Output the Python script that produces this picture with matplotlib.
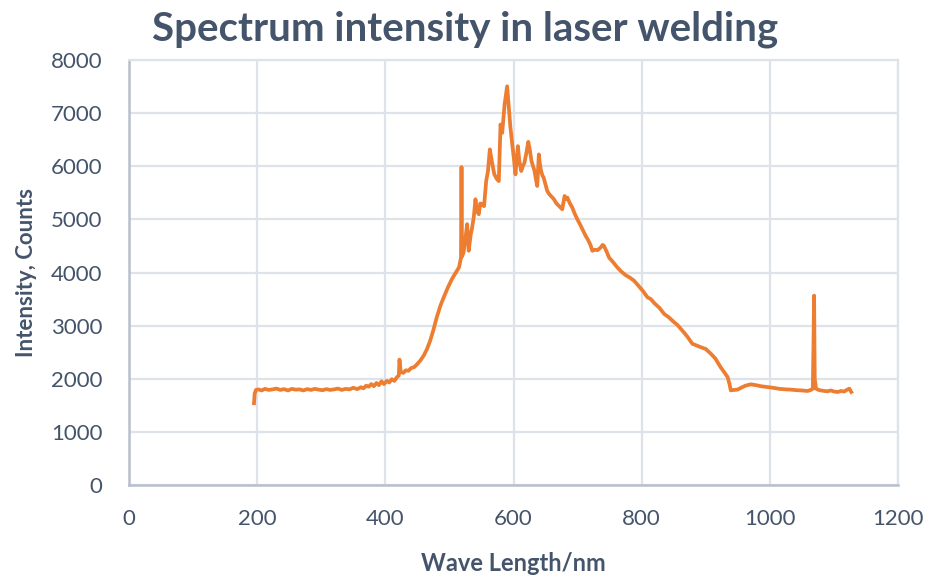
import matplotlib
matplotlib.use("Agg")
import matplotlib.pyplot as plt

# --- Spectrum (wavelength nm, intensity counts) ---
wavelength = [
    195, 196, 198, 202, 207, 212, 218, 224, 230, 236, 242, 248, 254, 260,
    266, 272, 278, 284, 290, 296, 302, 308, 314, 320, 326, 332, 338, 344,
    350, 356, 362, 366, 370, 374, 378, 382, 386, 390, 394, 398, 402, 406,
    410, 414, 418, 421, 422, 424, 428, 432, 436, 440, 445, 450, 455, 460,
    465, 470, 475, 480, 486, 492, 498, 504, 510, 515, 518, 518.8, 519.6, 522,
    525, 527.6, 530, 533, 535.4, 538, 540.6, 543, 545.8, 548, 551, 554,
    557.3, 560, 563, 566, 570, 574, 577, 579.7, 582.3, 586, 590, 592.7,
    595, 598, 600.5, 603, 606.8, 609, 612, 614.5, 617, 620, 623, 625.5,
    628, 630.5, 632.8, 635, 637, 639.5, 641, 643, 645, 647, 650, 652.6,
    656, 660, 663, 667, 672, 676, 679.7, 682, 684, 688, 691.7, 695, 699.5,
    704, 708, 712.5, 716, 720, 723, 727, 731, 736, 739, 741, 745, 749,
    755, 762, 768, 775, 782, 788, 795, 802, 809, 814, 820, 828, 835, 842,
    850, 856, 861, 866, 872, 879, 885, 892, 900, 908, 915, 923, 929, 934,
    937, 939, 944, 949.5, 955, 962, 970, 978, 986, 996, 1005, 1015, 1025,
    1033, 1042, 1050, 1059, 1064, 1067, 1068, 1069, 1070, 1072, 1076, 1080,
    1085, 1090, 1095, 1100, 1106, 1111, 1116, 1120, 1124, 1127,
]
intensity = [
    1540, 1720, 1790, 1800, 1780, 1810, 1790, 1800, 1815, 1790, 1805, 1780,
    1810, 1795, 1800, 1780, 1805, 1790, 1810, 1795, 1785, 1805, 1790, 1800,
    1815, 1790, 1810, 1800, 1830, 1805, 1840, 1820, 1870, 1850, 1900, 1860,
    1920, 1880, 1950, 1900, 1960, 1930, 1990, 1960, 2030, 2060, 2360, 2130,
    2110, 2160, 2150, 2200, 2220, 2280, 2350, 2440, 2560, 2720, 2920, 3150,
    3380, 3560, 3730, 3880, 4000, 4100, 4280, 5985, 4300, 4377, 4650, 4910,
    4409, 4700, 4846, 5050, 5379, 5150, 5097, 5300, 5285, 5250, 5722, 5900,
    6317, 6100, 5848, 5760, 5722, 6786, 6629, 7161, 7505, 7098, 6750, 6411,
    6150, 5848, 6379, 6100, 5910, 6000, 6066, 6250, 6460, 6300, 6098, 6000,
    5910, 5750, 5629, 6223, 6050, 5910, 5830, 5785, 5650, 5535, 5470, 5420,
    5379, 5300, 5240, 5191, 5441, 5380, 5410, 5300, 5222, 5120, 5003, 4900,
    4800, 4690, 4620, 4520, 4409, 4430, 4420, 4471, 4520, 4503, 4400, 4283,
    4200, 4096, 4020, 3950, 3900, 3846, 3750, 3650, 3533, 3502, 3420, 3330,
    3221, 3160, 3070, 3010, 2940, 2870, 2780, 2659, 2630, 2595, 2560, 2470,
    2380, 2220, 2120, 2032, 1900, 1782, 1790, 1795, 1830, 1870, 1895, 1880,
    1860, 1845, 1830, 1810, 1800, 1795, 1785, 1780, 1770, 1790, 1814, 2600,
    3565, 2000, 1814, 1790, 1780, 1770, 1765, 1780, 1760, 1751, 1770, 1760,
    1790, 1814, 1751,
]

x_ticks = [0, 200, 400, 600, 800, 1000, 1200]
y_ticks = [0, 1000, 2000, 3000, 4000, 5000, 6000, 7000, 8000]

text_color = "#44546A"
grid_color = "#DEE3EA"
axis_color = "#B8C0CC"

plt.rcParams["font.family"] = ["Lato", "DejaVu Sans"]

fig = plt.figure(figsize=(9.31, 5.81), dpi=100)
ax = fig.add_axes([0.1386, 0.1652, 0.8260, 0.7315])

ax.plot(wavelength, intensity, color="#ED7D31", linewidth=2.7,
        solid_joinstyle="round")

ax.set_xlim(0, 1200)
ax.set_ylim(0, 8000)
ax.set_xticks(x_ticks)
ax.set_yticks(y_ticks)
ax.tick_params(length=0, labelsize=16, colors=text_color)
ax.tick_params(axis="y", pad=19)
ax.tick_params(axis="x", pad=17)

ax.grid(True, color=grid_color, linewidth=1.6)
ax.set_axisbelow(True)
for side in ("top", "right"):
    ax.spines[side].set_color(grid_color)
    ax.spines[side].set_linewidth(1.6)
for side in ("left", "bottom"):
    ax.spines[side].set_color(axis_color)
    ax.spines[side].set_linewidth(1.8)

ax.set_xlabel("Wave Length/nm", fontsize=17, fontweight="bold",
              color=text_color, labelpad=17)
ax.set_ylabel("Intensity, Counts", fontsize=16, fontweight="bold",
              color=text_color, labelpad=10)
fig.text(0.50, 0.950, "Spectrum intensity in laser welding", ha="center",
         va="center", fontsize=29, fontweight="bold", color=text_color)

fig.savefig("out.png", dpi=100)
